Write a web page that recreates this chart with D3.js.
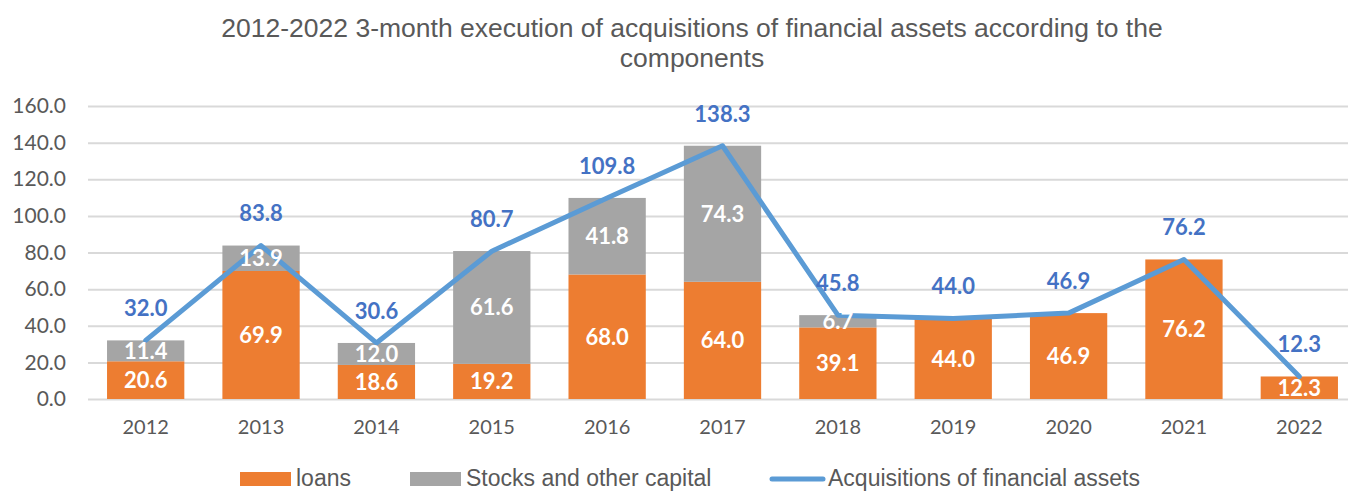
<!DOCTYPE html>
<html>
<head>
<meta charset="utf-8">
<script src="https://cdn.jsdelivr.net/npm/d3@7"></script>
<style>
  body { margin: 0; background: #fff; }
  svg { display: block; }
</style>
</head>
<body>
<div id="chart"></div>
<script>
var years = ["2012", "2013", "2014", "2015", "2016", "2017", "2018", "2019", "2020", "2021", "2022"];
var loans = [20.6, 69.9, 18.6, 19.2, 68.0, 64.0, 39.1, 44.0, 46.9, 76.2, 12.3];
var stocks = [11.4, 13.9, 12.0, 61.6, 41.8, 74.3, 6.7, 0, 0, 0, 0];
var acquisitions = [32.0, 83.8, 30.6, 80.7, 109.8, 138.3, 45.8, 44.0, 46.9, 76.2, 12.3];
var yTicks = [0, 20, 40, 60, 80, 100, 120, 140, 160];

var width = 1348, height = 492;
var margin = { top: 106, right: -9, bottom: 93, left: 88 };

var svg = d3.select("#chart").append("svg")
  .attr("width", width)
  .attr("height", height);

var x = d3.scaleBand()
  .domain(years)
  .range([margin.left, width - margin.right])
  .paddingInner(0.33)
  .paddingOuter(0.165);

var y = d3.scaleLinear()
  .domain([0, 160])
  .range([height - margin.bottom, margin.top]);

// title
var title = svg.append("g")
  .attr("text-anchor", "middle")
  .style("font-family", "Liberation Sans, Arial, sans-serif")
  .style("font-size", "26.5px")
  .style("fill", "#595959");
title.append("text").attr("x", 692).attr("y", 37)
  .text("2012-2022 3-month execution of acquisitions of financial assets according to the");
title.append("text").attr("x", 692).attr("y", 67)
  .text("components");

// grid + y axis
var yAxis = d3.axisLeft(y)
  .tickValues(yTicks)
  .tickSize(-(width - margin.right - margin.left))
  .tickFormat(d3.format(".1f"))
  .tickPadding(22);

var gy = svg.append("g")
  .attr("transform", "translate(" + margin.left + ",0)")
  .call(yAxis);
gy.select(".domain").remove();
gy.selectAll(".tick line").attr("stroke", "#d9d9d9").attr("stroke-width", 2);
gy.selectAll(".tick text")
  .style("font-family", "Lato, Calibri, sans-serif")
  .style("font-size", "21px")
  .style("fill", "#595959");

// x axis
var xAxis = d3.axisBottom(x).tickSize(0).tickPadding(21);
var gx = svg.append("g")
  .attr("transform", "translate(0," + y(0) + ")")
  .call(xAxis);
gx.select(".domain").remove();
gx.selectAll(".tick text")
  .style("font-family", "Lato, Calibri, sans-serif")
  .style("font-size", "20px")
  .style("fill", "#595959");

// bars
svg.append("g").selectAll("rect")
  .data(years)
  .enter().append("rect")
  .attr("x", function(d) { return x(d); })
  .attr("width", x.bandwidth())
  .attr("y", function(d, i) { return y(loans[i]); })
  .attr("height", function(d, i) { return y(0) - y(loans[i]); })
  .attr("fill", "#ED7D31");

svg.append("g").selectAll("rect")
  .data(years)
  .enter().append("rect")
  .attr("x", function(d) { return x(d); })
  .attr("width", x.bandwidth())
  .attr("y", function(d, i) { return y(loans[i] + stocks[i]); })
  .attr("height", function(d, i) { return y(loans[i]) - y(loans[i] + stocks[i]); })
  .attr("fill", "#A5A5A5");

// line
var line = d3.line()
  .x(function(d, i) { return x(years[i]) + x.bandwidth() / 2; })
  .y(function(d) { return y(d); });

svg.append("path")
  .datum(acquisitions)
  .attr("d", line)
  .attr("fill", "none")
  .attr("stroke", "#5B9BD5")
  .attr("stroke-width", 5)
  .attr("stroke-linejoin", "round")
  .attr("stroke-linecap", "round");

// bar labels (drawn on top of the line, like excel)
svg.append("g").selectAll("text")
  .data(years)
  .enter().append("text")
  .attr("x", function(d) { return x(d) + x.bandwidth() / 2; })
  .attr("y", function(d, i) { return y(loans[i] / 2); })
  .attr("dy", "0.36em")
  .attr("text-anchor", "middle")
  .style("font-family", "Lato, Calibri, sans-serif")
  .style("font-weight", "bold")
  .style("font-size", "22px")
  .style("fill", "#fff")
  .text(function(d, i) { return loans[i].toFixed(1); });

svg.append("g").selectAll("text")
  .data(years.filter(function(d, i) { return stocks[i] > 0; }))
  .enter().append("text")
  .attr("x", function(d) { return x(d) + x.bandwidth() / 2; })
  .attr("y", function(d) { var i = years.indexOf(d); return y(loans[i] + stocks[i] / 2); })
  .attr("dy", "0.36em")
  .attr("text-anchor", "middle")
  .style("font-family", "Lato, Calibri, sans-serif")
  .style("font-weight", "bold")
  .style("font-size", "22px")
  .style("fill", "#fff")
  .text(function(d) { return stocks[years.indexOf(d)].toFixed(1); });

svg.append("g").selectAll("text")
  .data(acquisitions)
  .enter().append("text")
  .attr("x", function(d, i) { return x(years[i]) + x.bandwidth() / 2; })
  .attr("y", function(d) { return y(d) - 32; })
  .attr("dy", "0.36em")
  .attr("text-anchor", "middle")
  .style("font-family", "Lato, Calibri, sans-serif")
  .style("font-weight", "bold")
  .style("font-size", "22px")
  .style("fill", "#4472C4")
  .text(function(d) { return d.toFixed(1); });

// legend
var legend = svg.append("g").style("font-family", "Liberation Sans, Arial, sans-serif")
  .style("font-size", "23px").style("fill", "#595959");
legend.append("rect").attr("x", 240).attr("y", 472).attr("width", 51).attr("height", 14).attr("fill", "#ED7D31");
legend.append("text").attr("x", 296).attr("y", 486).text("loans");
legend.append("rect").attr("x", 410).attr("y", 472).attr("width", 51).attr("height", 14).attr("fill", "#A5A5A5");
legend.append("text").attr("x", 466).attr("y", 486).text("Stocks and other capital");
legend.append("line").attr("x1", 772).attr("x2", 823).attr("y1", 479).attr("y2", 479)
  .attr("stroke", "#5B9BD5").attr("stroke-width", 5).attr("stroke-linecap", "round");
legend.append("text").attr("x", 828).attr("y", 486).text("Acquisitions of financial assets");
</script>
</body>
</html>
